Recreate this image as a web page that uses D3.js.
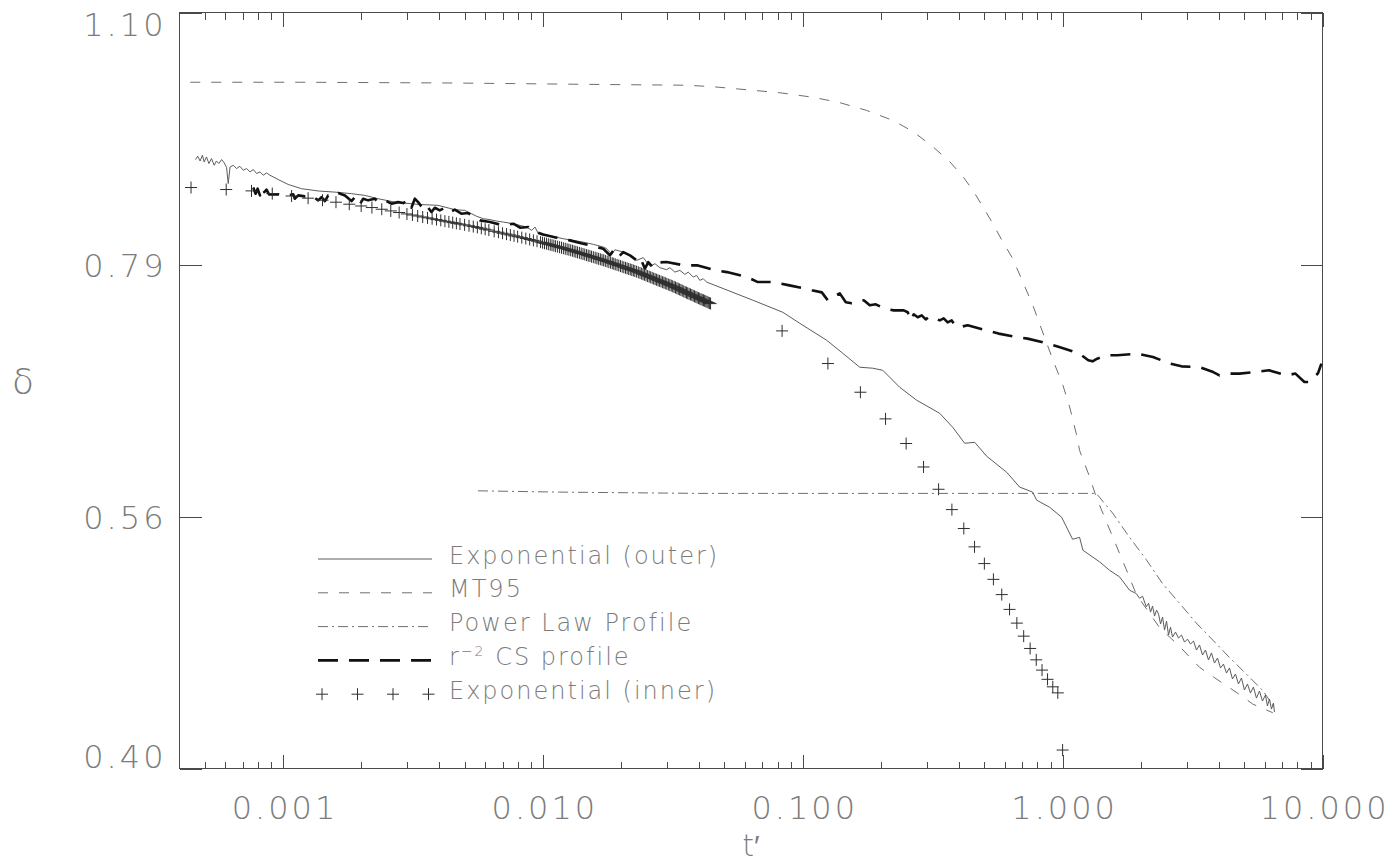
<!DOCTYPE html>
<html>
<head>
<meta charset="utf-8">
<script src="https://cdn.jsdelivr.net/npm/d3@7"></script>
<style>
  html, body { margin: 0; padding: 0; background: #fff; }
  svg { display: block; }
</style>
</head>
<body>
<svg id="chart" width="1393" height="865"></svg>
<script>
// ---- Axis ticks ----
const xMajorTicks = [0.001, 0.01, 0.1, 1, 10];
const xTickLabels = ["0.001", "0.010", "0.100", "1.000", "10.000"];
const xMinorTicks = [0.0005, 0.0006, 0.0007, 0.0008, 0.0009,
  0.002, 0.003, 0.004, 0.005, 0.006, 0.007, 0.008, 0.009,
  0.02, 0.03, 0.04, 0.05, 0.06, 0.07, 0.08, 0.09,
  0.2, 0.3, 0.4, 0.5, 0.6, 0.7, 0.8, 0.9,
  2, 3, 4, 5, 6, 7, 8, 9];
const yTickValues = [0.4, 0.5604, 0.7851, 1.1];
const yTickLabels = ["0.40", "0.56", "0.79", "1.10"];

// ---- Exponential (outer) ----
const outerT = [0.000461, 0.000470, 0.000480, 0.000490, 0.000498, 0.000508, 0.000519, 0.000531, 0.000544, 0.000555,
  0.000567, 0.000581, 0.000595, 0.000607, 0.000616, 0.000626, 0.000644, 0.000663, 0.000683, 0.000704,
  0.000725, 0.000747, 0.000769, 0.000792, 0.000816, 0.000840, 0.000865, 0.000891, 0.000959, 0.001048,
  0.001179, 0.001367, 0.001585, 0.001836, 0.002067, 0.002325, 0.002696, 0.003313, 0.003955, 0.004585,
  0.005010, 0.005310, 0.005569, 0.005904, 0.006266, 0.006649, 0.007048, 0.007702, 0.008172, 0.008670,
  0.009065, 0.009333, 0.009609, 0.010044, 0.010975, 0.011989, 0.013100, 0.014316, 0.015638, 0.017087,
  0.017609, 0.018406, 0.018951, 0.020397, 0.022284, 0.022965, 0.024345, 0.025832, 0.027000, 0.028223,
  0.029945, 0.030833, 0.032228, 0.033685, 0.035214, 0.036258, 0.037898, 0.039057, 0.040214, 0.041405,
  0.042673, 0.064465, 0.083851, 0.097464, 0.12377, 0.14259, 0.16580, 0.18603, 0.20325, 0.23622,
  0.27459, 0.33656, 0.37765, 0.41998, 0.45893, 0.51025, 0.60913, 0.68338, 0.76679, 0.79440,
  0.89130, 0.99119, 1.0925, 1.1624, 1.1968, 1.3877, 1.5159, 1.6565, 1.8094, 1.9201,
  1.9775, 2.0307, 2.0984, 2.1416, 2.1798, 2.2187, 2.2583, 2.2986, 2.3397, 2.3815,
  2.4240, 2.4672, 2.5113, 2.5562, 2.6013, 2.6478, 2.7191, 2.7924, 2.8676, 2.9448,
  3.0237, 3.1057, 3.1893, 3.2751, 3.3631, 3.4537, 3.5466, 3.6419, 3.7401, 3.8408,
  3.9442, 4.0503, 4.1592, 4.2712, 4.3860, 4.5040, 4.6254, 4.7495, 4.8776, 5.0088,
  5.1434, 5.2820, 5.4241, 5.5700, 5.7198, 5.8738, 6.0318, 6.1396, 6.2494, 6.3611,
  6.4748, 6.5325];
const outerD = [0.9035, 0.9076, 0.9018, 0.9088, 0.9006, 0.9067, 0.8987, 0.9047, 0.8966, 0.9018,
  0.8987, 0.9035, 0.8994, 0.8939, 0.8750, 0.8946, 0.8966, 0.8927, 0.8954, 0.8907,
  0.8927, 0.8887, 0.8915, 0.8868, 0.8887, 0.8848, 0.8875, 0.8848, 0.8797, 0.8739,
  0.8690, 0.8663, 0.8650, 0.8632, 0.8612, 0.8574, 0.8535, 0.8509, 0.8498, 0.8449,
  0.8441, 0.8404, 0.8374, 0.8348, 0.8337, 0.8321, 0.8310, 0.8292, 0.8273, 0.8255,
  0.8218, 0.8255, 0.8182, 0.8163, 0.8152, 0.8127, 0.8109, 0.8090, 0.8066, 0.8037,
  0.8019, 0.7959, 0.8008, 0.7983, 0.7930, 0.7895, 0.7924, 0.7832, 0.7860, 0.7818,
  0.7797, 0.7818, 0.7772, 0.7790, 0.7748, 0.7772, 0.7721, 0.7738, 0.7686, 0.7704,
  0.7669, 0.7484, 0.7365, 0.7257, 0.7094, 0.6972, 0.6843, 0.6834, 0.6815, 0.6662,
  0.6547, 0.6434, 0.6315, 0.6181, 0.6189, 0.6075, 0.5946, 0.5829, 0.5790, 0.5728,
  0.5674, 0.5599, 0.5436, 0.5450, 0.5357, 0.5274, 0.5215, 0.5169, 0.5078, 0.5055,
  0.5023, 0.5037, 0.4966, 0.4990, 0.4931, 0.4971, 0.4905, 0.4944, 0.4918, 0.4853,
  0.4898, 0.4814, 0.4872, 0.4782, 0.4833, 0.4769, 0.4801, 0.4763, 0.4782, 0.4737,
  0.4756, 0.4725, 0.4744, 0.4687, 0.4719, 0.4656, 0.4687, 0.4625, 0.4669, 0.4606,
  0.4637, 0.4576, 0.4600, 0.4545, 0.4576, 0.4509, 0.4539, 0.4479, 0.4515, 0.4443,
  0.4479, 0.4425, 0.4461, 0.4395, 0.4437, 0.4378, 0.4413, 0.4349, 0.4390, 0.4331,
  0.4366, 0.4314];

// ---- MT95 ----
const mt95T = [0.00044, 0.00117, 0.0044, 0.0166, 0.0358, 0.0452, 0.0608, 0.0817, 0.1097, 0.1389,
  0.1759, 0.2227, 0.2658, 0.3173, 0.3678, 0.4138, 0.4519, 0.4938, 0.5395, 0.5895,
  0.644, 0.708, 0.7668, 0.8528, 0.9178, 1.0027, 1.064, 1.129, 1.163, 1.270,
  1.348, 1.561, 1.758, 1.920, 2.361, 2.818, 3.364, 3.899, 4.655, 5.392, 6.436];
const mt95D = [1.002, 1.002, 1.001, 0.999, 0.998, 0.996, 0.992, 0.988, 0.982, 0.975,
  0.965, 0.952, 0.938, 0.919, 0.901, 0.883, 0.867, 0.848, 0.829, 0.809,
  0.791, 0.765, 0.744, 0.712, 0.691, 0.668, 0.649, 0.626, 0.612, 0.591,
  0.575, 0.545, 0.522, 0.505, 0.483, 0.471, 0.458, 0.451, 0.443, 0.436, 0.431];

// ---- Power Law Profile ----
const powerT = [0.00563, 0.0116, 0.0402, 0.236, 0.5725, 1.348, 1.557, 1.8095, 2.0986, 2.4306,
  2.8176, 3.2668, 3.7836, 4.3873, 5.0858, 5.8916, 6.5334];
const powerD = [0.580, 0.579, 0.578, 0.578, 0.578, 0.578, 0.563, 0.545, 0.529, 0.512,
  0.499, 0.486, 0.475, 0.464, 0.454, 0.444, 0.434];

// ---- r^-2 CS profile ----
const csT = [0.000769, 0.000785, 0.000799, 0.000816, 0.000833, 0.000848, 0.000865, 0.000884, 0.000959, 0.001018,
  0.001096, 0.001112, 0.001145, 0.001215, 0.001288, 0.001367, 0.001408, 0.001451, 0.001494, 0.001561,
  0.001632, 0.001732, 0.001836, 0.001892, 0.001978, 0.002036, 0.002128, 0.002258, 0.002325, 0.002467,
  0.002615, 0.002775, 0.002901, 0.003032, 0.003122, 0.003217, 0.003313, 0.003463, 0.003565, 0.003727,
  0.003841, 0.004014, 0.004196, 0.004386, 0.004585, 0.004860, 0.005157, 0.005472, 0.005734, 0.006266,
  0.007048, 0.007702, 0.008172, 0.008796, 0.009194, 0.010044, 0.011310, 0.012722, 0.013902, 0.015186,
  0.017087, 0.018131, 0.018668, 0.019514, 0.020397, 0.021643, 0.022965, 0.023646, 0.024715, 0.025447,
  0.026598, 0.028223, 0.029945, 0.035089, 0.039518, 0.046345, 0.051071, 0.060966, 0.067196, 0.077426,
  0.088900, 0.10188, 0.10839, 0.11844, 0.12487, 0.13169, 0.13890, 0.14649, 0.15444, 0.16289,
  0.17177, 0.18115, 0.19104, 0.20505, 0.22403, 0.24475, 0.25358, 0.26040, 0.26739, 0.27701,
  0.28701, 0.29734, 0.30806, 0.32199, 0.33656, 0.34872, 0.36129, 0.37432, 0.38781, 0.40179,
  0.43130, 0.50576, 0.56739, 0.66545, 0.73365, 0.87958, 0.97035, 1.1593, 1.2554, 1.3040,
  1.3585, 1.4893, 1.6233, 1.9389, 2.2265, 2.6013, 2.8676, 3.3631, 3.7966, 4.0145,
  4.3475, 4.7917, 5.5224, 6.2223, 7.2847, 7.8668, 8.5198, 8.8742, 9.6094, 9.9031];
const csD = [0.8703, 0.8632, 0.8690, 0.8612, 0.8703, 0.8650, 0.8678, 0.8624, 0.8624, 0.8604,
  0.8624, 0.8574, 0.8612, 0.8601, 0.8612, 0.8555, 0.8592, 0.8547, 0.8612, 0.8601,
  0.8639, 0.8612, 0.8547, 0.8592, 0.8509, 0.8574, 0.8555, 0.8574, 0.8535, 0.8555,
  0.8517, 0.8535, 0.8524, 0.8555, 0.8471, 0.8574, 0.8535, 0.8460, 0.8498, 0.8422,
  0.8471, 0.8441, 0.8471, 0.8422, 0.8449, 0.8404, 0.8411, 0.8366, 0.8329, 0.8310,
  0.8273, 0.8292, 0.8248, 0.8255, 0.8211, 0.8174, 0.8138, 0.8109, 0.8080, 0.8055,
  0.8019, 0.7948, 0.8001, 0.7930, 0.7983, 0.7948, 0.7895, 0.7930, 0.7808, 0.7877,
  0.7818, 0.7874, 0.7877, 0.7842, 0.7842, 0.7790, 0.7772, 0.7721, 0.7669, 0.7669,
  0.7635, 0.7602, 0.7585, 0.7564, 0.7484, 0.7524, 0.7554, 0.7464, 0.7454, 0.7474,
  0.7484, 0.7434, 0.7444, 0.7404, 0.7384, 0.7384, 0.7365, 0.7286, 0.7345, 0.7316,
  0.7335, 0.7296, 0.7325, 0.7306, 0.7286, 0.7306, 0.7267, 0.7286, 0.7228, 0.7221,
  0.7238, 0.7190, 0.7158, 0.7125, 0.7110, 0.7063, 0.7031, 0.6969, 0.6907, 0.6897,
  0.6922, 0.6953, 0.6953, 0.6969, 0.6937, 0.6876, 0.6851, 0.6845, 0.6799, 0.6769,
  0.6785, 0.6785, 0.6799, 0.6815, 0.6769, 0.6785, 0.6709, 0.6709, 0.6788, 0.6876];

// ---- Exponential (inner) ----
const innerT = [0.000443, 0.000605, 0.000757, 0.00091, 0.00108, 0.00125, 0.00142, 0.0016, 0.0018, 0.002,
  0.0022, 0.0024, 0.0026, 0.0028, 0.003, 0.00315, 0.0033, 0.00345, 0.0036, 0.00375,
  0.0039, 0.00405, 0.0042, 0.00435, 0.0045, 0.00465, 0.0048, 0.005, 0.0052, 0.0054,
  0.0056, 0.0058, 0.006, 0.0062, 0.0065, 0.00675, 0.007, 0.00725, 0.0075, 0.00775,
  0.008, 0.0083, 0.0086, 0.0089, 0.0092, 0.0095,
  0.0098, 0.00998, 0.01015, 0.01033, 0.0105, 0.01068, 0.01085, 0.01103, 0.0112, 0.0114,
  0.0116, 0.0118, 0.012, 0.0122, 0.0124, 0.0126, 0.0128, 0.013, 0.0132, 0.0134,
  0.0136, 0.01383, 0.01405, 0.01428, 0.0145, 0.01473, 0.01495, 0.01518, 0.0154, 0.01565,
  0.0159, 0.01615, 0.0164, 0.01665, 0.0169, 0.01715, 0.0174, 0.01768, 0.01795, 0.01823,
  0.0185, 0.01875, 0.019, 0.0193, 0.0196, 0.0199, 0.0202, 0.0205, 0.0208, 0.0211,
  0.0214, 0.0217, 0.022, 0.0223, 0.0226, 0.02295, 0.0233, 0.02365, 0.024, 0.0243,
  0.0246, 0.02495, 0.0253, 0.02565, 0.026, 0.02635, 0.0267, 0.02705, 0.0274, 0.02775,
  0.0281, 0.0285, 0.0289, 0.02925, 0.0296, 0.03, 0.0304, 0.0308, 0.0312, 0.0316,
  0.032, 0.0324, 0.0328, 0.0332, 0.0336, 0.034, 0.0344, 0.03485, 0.0353, 0.0357,
  0.0361, 0.03655, 0.037, 0.03745, 0.0379, 0.03835, 0.0388, 0.03925, 0.0397, 0.04015,
  0.0406, 0.04105, 0.0415, 0.04195, 0.0424, 0.04285, 0.0433, 0.04375, 0.0442,
  0.0833, 0.125, 0.1667, 0.2083, 0.25, 0.2917, 0.3333, 0.375, 0.4167, 0.4583,
  0.5, 0.5417, 0.5833, 0.625, 0.6667, 0.7083, 0.75, 0.7917, 0.8333, 0.875,
  0.9167, 0.9583, 1.0];
const innerD = [0.8703, 0.8680, 0.8664, 0.8633, 0.8605, 0.8580, 0.8557, 0.8534, 0.8511, 0.8491,
  0.8473, 0.8454, 0.8435, 0.8417, 0.8401, 0.8389, 0.8378, 0.8367, 0.8357, 0.8347,
  0.8338, 0.8329, 0.8320, 0.8312, 0.8304, 0.8296, 0.8288, 0.8279, 0.8269, 0.8260,
  0.8251, 0.8241, 0.8231, 0.8222, 0.8208, 0.8198, 0.8187, 0.8177, 0.8168, 0.8158,
  0.8149, 0.8139, 0.8129, 0.8119, 0.8109, 0.8100,
  0.8090, 0.8084, 0.8078, 0.8073, 0.8067, 0.8062, 0.8057, 0.8052, 0.8046, 0.8041,
  0.8035, 0.8030, 0.8024, 0.8019, 0.8013, 0.8008, 0.8002, 0.7997, 0.7991, 0.7986,
  0.7980, 0.7974, 0.7968, 0.7963, 0.7957, 0.7951, 0.7945, 0.7940, 0.7934, 0.7929,
  0.7923, 0.7917, 0.7911, 0.7906, 0.7900, 0.7895, 0.7889, 0.7883, 0.7876, 0.7870,
  0.7864, 0.7859, 0.7853, 0.7847, 0.7841, 0.7835, 0.7828, 0.7822, 0.7816, 0.7811,
  0.7805, 0.7800, 0.7794, 0.7789, 0.7783, 0.7777, 0.7770, 0.7763, 0.7756, 0.7750,
  0.7744, 0.7738, 0.7731, 0.7725, 0.7718, 0.7712, 0.7705, 0.7699, 0.7693, 0.7687,
  0.7681, 0.7675, 0.7668, 0.7663, 0.7657, 0.7651, 0.7644, 0.7638, 0.7632, 0.7626,
  0.7619, 0.7613, 0.7606, 0.7600, 0.7594, 0.7588, 0.7581, 0.7574, 0.7567, 0.7561,
  0.7555, 0.7549, 0.7543, 0.7537, 0.7530, 0.7524, 0.7518, 0.7512, 0.7506, 0.7500,
  0.7494, 0.7489, 0.7484, 0.7479, 0.7473, 0.7468, 0.7462, 0.7457, 0.7451,
  0.7184, 0.6877, 0.6618, 0.6386, 0.6179, 0.5988, 0.5812, 0.5656, 0.5515, 0.5381,
  0.5262, 0.5152, 0.5048, 0.4949, 0.4859, 0.4775, 0.4697, 0.4626, 0.4563, 0.4507,
  0.4462, 0.4426, 0.4100];

// ---- Legend and titles ----
const legendLabels = ["Exponential (outer)", "MT95", "Power Law Profile", "r^-2 CS profile", "Exponential (inner)"];
const xTitle = "t\u2032";
const yTitle = "\u03b4";

// ---- Drawing ----
const W = 1393, H = 865;
const plot = { left: 179.5, right: 1322.5, top: 12.5, bottom: 768.5 };
const FONT = '"DejaVu Sans", "Liberation Sans", sans-serif';
const TEXT_COLOR = "#7c7c7c";
const AXIS_COLOR = "#4a4a4a";

const svg = d3.select("#chart");
svg.append("rect").attr("width", W).attr("height", H).attr("fill", "#fff");

const x = d3.scaleLog().domain([0.0004, 10]).range([plot.left, plot.right]);
const y = d3.scaleLog().domain([0.4, 1.1]).range([plot.bottom, plot.top]);

const zip = (ts, ds) => ts.map((t, i) => ({ t, v: ds[i] }));
const line = d3.line().x(d => x(d.t)).y(d => y(d.v));

const styles = {
  outer: { stroke: "#5c5c5c", width: 1, dash: null },
  mt95: { stroke: "#6e6e6e", width: 1, dash: "10,11" },
  power: { stroke: "#6e6e6e", width: 1, dash: "10,4,2,4" },
  cs: { stroke: "#111", width: 2.6, dash: "20,11" }
};

function styleAxis(g) {
  g.select(".domain").remove();
  g.selectAll(".tick line").attr("stroke", AXIS_COLOR).attr("stroke-width", 1).attr("shape-rendering", "crispEdges");
  g.selectAll("text").attr("font-family", FONT).attr("fill", TEXT_COLOR);
}

// x axes: bottom with labels, top mirrored
svg.append("g").attr("transform", `translate(0,${plot.bottom})`)
  .call(d3.axisBottom(x).tickValues(xMinorTicks).tickSize(-7).tickSizeOuter(0).tickFormat(""))
  .call(styleAxis);
svg.append("g").attr("transform", `translate(0,${plot.bottom})`)
  .call(d3.axisBottom(x).tickValues(xMajorTicks).tickSize(-14).tickSizeOuter(0).tickPadding(28)
    .tickFormat((d, i) => xTickLabels[i]))
  .call(styleAxis)
  .call(g => g.selectAll("text").attr("font-size", 32).attr("font-weight", 200)
    .attr("letter-spacing", "3px").attr("dx", "1.5px"));
svg.append("g").attr("transform", `translate(0,${plot.top})`)
  .call(d3.axisTop(x).tickValues(xMinorTicks).tickSize(-7).tickSizeOuter(0).tickFormat(""))
  .call(styleAxis);
svg.append("g").attr("transform", `translate(0,${plot.top})`)
  .call(d3.axisTop(x).tickValues(xMajorTicks).tickSize(-14).tickSizeOuter(0).tickFormat(""))
  .call(styleAxis);

// y axes
svg.append("g").attr("transform", `translate(${plot.left},0)`)
  .call(d3.axisLeft(y).tickValues(yTickValues).tickSize(-22).tickSizeOuter(0).tickPadding(13)
    .tickFormat((d, i) => yTickLabels[i]))
  .call(styleAxis)
  .call(g => g.selectAll("text").attr("font-size", 32).attr("font-weight", 200)
    .attr("letter-spacing", "3px")
    .attr("y", d => d === 1.1 ? 12.5 : (d === 0.4 ? -11.5 : 2)));
svg.append("g").attr("transform", `translate(${plot.right},0)`)
  .call(d3.axisRight(y).tickValues(yTickValues).tickSize(-22).tickSizeOuter(0).tickFormat(""))
  .call(styleAxis);

// frame
svg.append("rect")
  .attr("x", plot.left).attr("y", plot.top)
  .attr("width", plot.right - plot.left).attr("height", plot.bottom - plot.top)
  .attr("fill", "none").attr("stroke", AXIS_COLOR).attr("stroke-width", 1)
  .attr("shape-rendering", "crispEdges");

// series
const plotG = svg.append("g");
function drawLine(data, st) {
  plotG.append("path").datum(data).attr("d", line)
    .attr("fill", "none").attr("stroke", st.stroke).attr("stroke-width", st.width)
    .attr("stroke-dasharray", st.dash).attr("stroke-linejoin", "round");
}
drawLine(zip(mt95T, mt95D), styles.mt95);
drawLine(zip(powerT, powerD), styles.power);
drawLine(zip(outerT, outerD), styles.outer);
drawLine(zip(csT, csD), styles.cs);

const CROSS = "M-6,0H6M0,-6V6";
const CROSS_COLOR = "#2e2e2e";
plotG.append("g").selectAll("path").data(zip(innerT, innerD)).join("path")
  .attr("d", CROSS)
  .attr("transform", d => `translate(${x(d.t)},${y(d.v)})`)
  .attr("fill", "none").attr("stroke", CROSS_COLOR).attr("stroke-width", 1);

// legend
const legend = svg.append("g");
const legX0 = 318, legX1 = 432, legTextX = 449, legY0 = 555, legStep = 33.8;
const legStyles = [styles.outer, styles.mt95, styles.power, styles.cs, null];
legendLabels.forEach((label, i) => {
  const cy = legY0 + i * legStep;
  const st = legStyles[i];
  if (st) {
    legend.append("line").attr("x1", legX0).attr("x2", legX1)
      .attr("y1", cy + 4).attr("y2", cy + 4)
      .attr("stroke", st.stroke).attr("stroke-width", st.width)
      .attr("stroke-dasharray", st.dash);
  } else {
    [0, 1, 2, 3].forEach(k => {
      legend.append("path").attr("d", CROSS)
        .attr("transform", `translate(${legX0 + 4 + k * 35.5},${cy + 4})`)
        .attr("fill", "none").attr("stroke", CROSS_COLOR).attr("stroke-width", 1);
    });
  }
  const txt = legend.append("text").attr("x", legTextX).attr("y", cy)
    .attr("dy", "0.36em").attr("font-family", FONT).attr("font-size", 24)
    .attr("font-weight", 200).attr("letter-spacing", "2px").attr("fill", TEXT_COLOR);
  const m = label.match(/^(.*?)\^(\S+)(.*)$/);
  if (m) {
    txt.append("tspan").text(m[1]);
    txt.append("tspan").attr("font-size", 14).attr("dy", -9).text(m[2].replace("-", "\u2212"));
    txt.append("tspan").attr("dy", 9).text(m[3]);
  } else {
    txt.text(label);
  }
});

// axis titles
svg.append("text").attr("x", (plot.left + plot.right) / 2).attr("y", 845)
  .attr("dy", "0.35em").attr("text-anchor", "middle")
  .attr("font-family", FONT).attr("font-size", 30).attr("font-weight", 200)
  .attr("fill", TEXT_COLOR).text(xTitle);
svg.append("text").attr("x", 23).attr("y", 381)
  .attr("dy", "0.35em").attr("text-anchor", "middle")
  .attr("font-family", FONT).attr("font-size", 36).attr("font-weight", 200)
  .attr("fill", TEXT_COLOR).text(yTitle);
</script>
</body>
</html>
